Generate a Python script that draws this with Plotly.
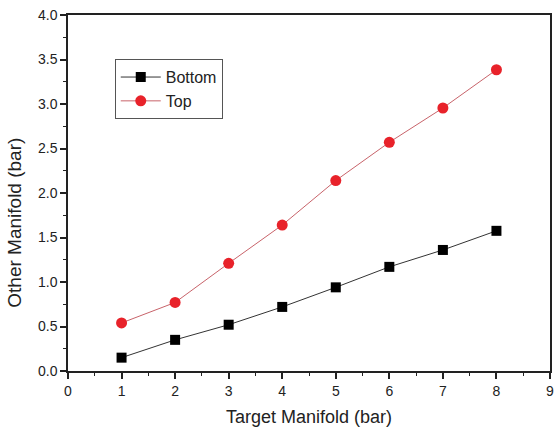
import plotly.graph_objects as go

x_vals = [1, 2, 3, 4, 5, 6, 7, 8]
bottom = [0.15, 0.35, 0.52, 0.72, 0.94, 1.17, 1.36, 1.575]
top = [0.54, 0.77, 1.21, 1.64, 2.14, 2.57, 2.955, 3.385]

FONT = "Liberation Sans, Arial, sans-serif"

fig = go.Figure()
fig.add_trace(go.Scatter(
    x=x_vals, y=bottom, name="Bottom", mode="lines+markers",
    line=dict(color="#333333", width=1),
    marker=dict(symbol="square", size=10, color="#000000"),
))
fig.add_trace(go.Scatter(
    x=x_vals, y=top, name="Top", mode="lines+markers",
    line=dict(color="#c8636a", width=1),
    marker=dict(symbol="circle", size=11, color="#e8222a"),
))

axis_common = dict(
    showline=True, linecolor="#222222", linewidth=1.5, mirror=True,
    ticks="outside", ticklen=6, tickwidth=1.5, tickcolor="#222222",
    showgrid=False, zeroline=False, automargin=False,
    tickfont=dict(family=FONT, size=14, color="#222222"),
)

fig.update_xaxes(
    range=[0, 9], dtick=1, tick0=0,
    minor=dict(ticks="outside", dtick=0.5, ticklen=3, tickwidth=1, tickcolor="#222222"),
    **axis_common,
)
fig.update_yaxes(
    range=[0, 4], dtick=0.5, tick0=0, tickformat=".1f",
    minor=dict(ticks="outside", dtick=0.25, ticklen=3, tickwidth=1, tickcolor="#222222"),
    **axis_common,
)

fig.add_annotation(
    text="Target Manifold (bar)", xref="paper", yref="paper",
    x=0.5, y=-0.128, xanchor="center", yanchor="middle", showarrow=False,
    font=dict(family=FONT, size=18, color="#222222"),
)
fig.add_annotation(
    text="Other Manifold (bar)", xref="paper", yref="paper",
    x=-0.111, y=0.418, xanchor="center", yanchor="middle", showarrow=False,
    textangle=-90,
    font=dict(family=FONT, size=19, color="#222222"),
)

fig.update_layout(
    width=555, height=431,
    margin=dict(l=68, r=5, t=15, b=60),
    plot_bgcolor="white", paper_bgcolor="white",
    legend=dict(
        x=0.097, y=0.876, xanchor="left", yanchor="top",
        bordercolor="#555555", borderwidth=1, bgcolor="white",
        font=dict(family=FONT, size=16, color="#222222"),
        tracegroupgap=0, itemwidth=40,
    ),
)

fig.write_html(
    "out.html",
    config={"displayModeBar": False},
    post_script="document.body.style.margin='0';document.body.style.overflow='hidden';",
)
